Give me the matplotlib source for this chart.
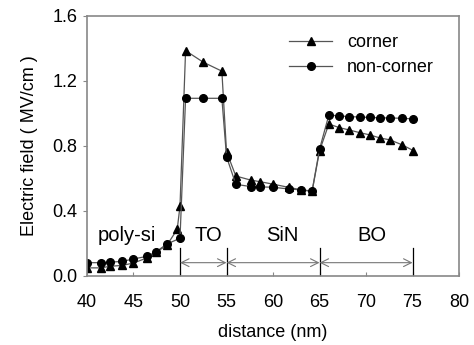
import numpy as np
import matplotlib.pyplot as plt

plt.rcParams['font.family'] = 'Liberation Sans'
plt.rcParams['font.size'] = 13

# corner (triangles)
x_corner = [40.0, 41.5, 42.5, 43.8, 45.0, 46.4, 47.4, 48.6, 49.7, 50.0, 50.6, 52.5, 54.5,
            55.0, 56.0, 57.6, 58.6, 60.0, 61.7, 63.0, 64.2, 65.0, 66.0, 67.1, 68.2,
            69.3, 70.4, 71.5, 72.6, 73.9, 75.1]
y_corner = [0.05, 0.05, 0.06, 0.065, 0.08, 0.11, 0.145, 0.19, 0.287, 0.43, 1.386, 1.315, 1.26,
            0.765, 0.615, 0.59, 0.58, 0.565, 0.545, 0.53, 0.52, 0.77, 0.935, 0.913, 0.898,
            0.882, 0.868, 0.849, 0.837, 0.806, 0.771]

# non-corner (circles)
x_non = [40.0, 41.5, 42.5, 43.8, 45.0, 46.4, 47.4, 48.6, 50.0, 50.6, 52.5, 54.5,
         55.0, 56.0, 57.6, 58.6, 60.0, 61.7, 63.0, 64.2, 65.0, 66.0, 67.1, 68.2,
         69.3, 70.4, 71.5, 72.6, 73.9, 75.1]
y_non = [0.082, 0.082, 0.085, 0.09, 0.105, 0.12, 0.148, 0.197, 0.232, 1.093, 1.093, 1.093,
         0.734, 0.564, 0.55, 0.548, 0.546, 0.535, 0.53, 0.523, 0.78, 0.99, 0.985, 0.98,
         0.978, 0.975, 0.973, 0.972, 0.97, 0.966]

regions = ['poly-si', 'TO', 'SiN', 'BO']
region_x = [44.3, 53.0, 61.0, 70.6]
bounds = [50, 55, 65, 75]

fig = plt.figure(figsize=(4.74, 3.45), dpi=100)
ax = fig.add_axes([0.1835, 0.2, 0.785, 0.754])

ax.plot(x_corner, y_corner, color='#555555', lw=0.9, marker='^', ms=5.5,
        mfc='black', mec='black', label='corner')
ax.plot(x_non, y_non, color='#555555', lw=0.9, marker='o', ms=5.5,
        mfc='black', mec='black', label='non-corner')

for name, xr in zip(regions, region_x):
    ax.text(xr, 0.25, name, ha='center', va='center', fontsize=14.5)

for xb in bounds:
    ax.plot([xb, xb], [0, 0.175], color='black', lw=0.9)
for a, b in zip(bounds[:-1], bounds[1:]):
    ax.annotate('', xy=(a, 0.082), xytext=(b, 0.082),
                arrowprops=dict(arrowstyle='<->', color='#777777', lw=0.8,
                                shrinkA=0, shrinkB=0, mutation_scale=14))

ax.set_xlim(40, 80)
ax.set_ylim(0, 1.6)
ax.set_xticks(np.arange(40, 81, 5))
ax.set_yticks(np.arange(0, 1.61, 0.4))
ax.set_yticklabels(['%.1f' % v for v in np.arange(0, 1.61, 0.4)])
ax.tick_params(axis='x', direction='in', length=3, color='#888888', labelsize=13, pad=13)
ax.tick_params(axis='y', direction='out', length=3, color='#888888', labelsize=13, pad=4)
for s in ax.spines.values():
    s.set_color('#888888')
    s.set_linewidth(1.2)

ax.set_xlabel('distance (nm)', fontsize=13, labelpad=9)
ax.set_ylabel('Electric field ( MV/cm )', fontsize=13, labelpad=10)

ax.legend(loc='upper left', frameon=False, fontsize=13, handlelength=2.4,
          handletextpad=0.8, bbox_to_anchor=(0.543, 0.93), borderaxespad=0,
          borderpad=0, labelspacing=0.45)

fig.savefig('out.png', dpi=100)
